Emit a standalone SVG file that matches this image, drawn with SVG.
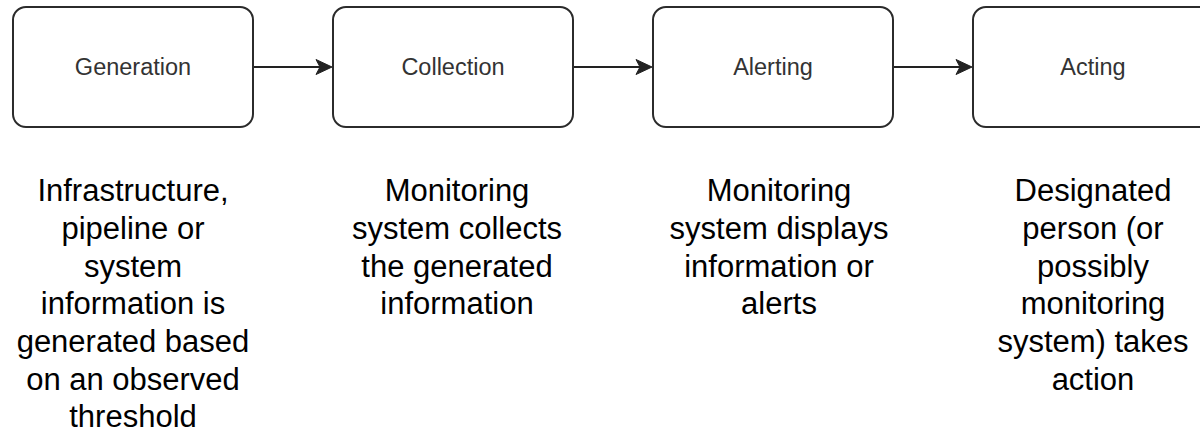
<svg xmlns="http://www.w3.org/2000/svg" width="1200" height="434" viewBox="0 0 1200 434">
<style>
.box{fill:#fff;stroke:#2b2b2b;stroke-width:2}
.lbl{font-family:"Liberation Sans",Arial,sans-serif;font-size:23.5px;fill:#333;text-anchor:middle}
.desc{font-family:"Liberation Sans",Arial,sans-serif;font-size:31px;fill:#000;text-anchor:middle}
.conn{stroke:#222;stroke-width:2;fill:none}
.head{fill:#222;stroke:#222;stroke-width:1}
</style>
<rect width="1200" height="434" fill="#fff"/>
<g id="connectors">
<path class="conn" d="M253 67 L322 67"/>
<path class="head" d="M332 67 L316 59.5 L320 67 L316 74.5 Z"/>
<path class="conn" d="M573 67 L642 67"/>
<path class="head" d="M652 67 L636 59.5 L640 67 L636 74.5 Z"/>
<path class="conn" d="M893 67 L962 67"/>
<path class="head" d="M972 67 L956 59.5 L960 67 L956 74.5 Z"/>
</g>
<g id="generation">
<rect class="box" x="13" y="7" width="240" height="120" rx="13"/>
<text class="lbl" x="133" y="75">Generation</text>
</g>
<g id="collection">
<rect class="box" x="333" y="7" width="240" height="120" rx="13"/>
<text class="lbl" x="453" y="75">Collection</text>
</g>
<g id="alerting">
<rect class="box" x="653" y="7" width="240" height="120" rx="13"/>
<text class="lbl" x="773" y="75">Alerting</text>
</g>
<g id="acting">
<rect class="box" x="973" y="7" width="240" height="120" rx="13"/>
<text class="lbl" x="1093" y="75">Acting</text>
</g>
<g id="desc-generation">
<text class="desc" x="133" y="201">Infrastructure,</text>
<text class="desc" x="133" y="239">pipeline or</text>
<text class="desc" x="133" y="277">system</text>
<text class="desc" x="133" y="314">information is</text>
<text class="desc" x="133" y="352">generated based</text>
<text class="desc" x="133" y="390">on an observed</text>
<text class="desc" x="133" y="427">threshold</text>
</g>
<g id="desc-collection">
<text class="desc" x="457" y="201">Monitoring</text>
<text class="desc" x="457" y="239">system collects</text>
<text class="desc" x="457" y="277">the generated</text>
<text class="desc" x="457" y="314">information</text>
</g>
<g id="desc-alerting">
<text class="desc" x="779" y="201">Monitoring</text>
<text class="desc" x="779" y="239">system displays</text>
<text class="desc" x="779" y="277">information or</text>
<text class="desc" x="779" y="314">alerts</text>
</g>
<g id="desc-acting">
<text class="desc" x="1093" y="201">Designated</text>
<text class="desc" x="1093" y="239">person (or</text>
<text class="desc" x="1093" y="277">possibly</text>
<text class="desc" x="1093" y="314">monitoring</text>
<text class="desc" x="1093" y="352">system) takes</text>
<text class="desc" x="1093" y="390">action</text>
</g>
</svg>
